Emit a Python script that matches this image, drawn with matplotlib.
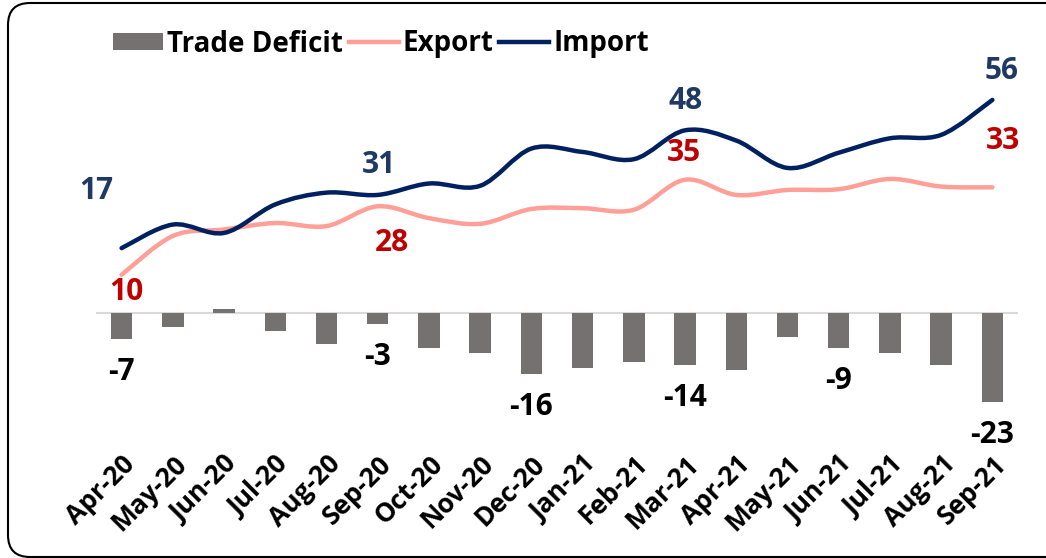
import numpy as np
import matplotlib
matplotlib.use('Agg')
import matplotlib.pyplot as plt
from matplotlib.path import Path
from matplotlib.patches import PathPatch, FancyBboxPatch, Patch
from matplotlib.lines import Line2D
from matplotlib.transforms import IdentityTransform

months = ['Apr-20', 'May-20', 'Jun-20', 'Jul-20', 'Aug-20', 'Sep-20', 'Oct-20', 'Nov-20',
          'Dec-20', 'Jan-21', 'Feb-21', 'Mar-21', 'Apr-21', 'May-21', 'Jun-21', 'Jul-21',
          'Aug-21', 'Sep-21']
trade_deficit = [-6.9, -3.8, 1.0, -4.7, -8.3, -2.9, -9.2, -10.5, -16.0, -14.6, -12.9,
                 -13.8, -15.2, -6.4, -9.4, -10.7, -13.8, -23.4]
exports = [10, 20.2, 21.9, 23.6, 22.8, 28, 24.9, 23.4, 27.3, 27.5, 27.1, 35, 31.0,
           32.3, 32.5, 35.2, 33.2, 33]
imports = [17, 23.2, 21.0, 28.5, 31.6, 31, 34.0, 33.4, 43.2, 42.3, 40.4, 48, 45.3,
           38.1, 42.1, 45.9, 46.8, 56]

import_labels_idx = [0, 5, 11, 17]
export_labels_idx = [0, 5, 11, 17]
deficit_labels_idx = [0, 5, 8, 11, 14, 17]

C_BAR = '#767171'
C_EXP = '#FF9F97'
C_IMP = '#002060'
C_IMP_LBL = '#1F3864'
C_EXP_LBL = '#C00000'

plt.rcParams['font.family'] = ['Open Sans', 'DejaVu Sans']

W, H = 1046, 558
fig = plt.figure(figsize=(W / 100, H / 100), dpi=100)
fig.patch.set_facecolor('white')

ax = fig.add_axes([96 / W, 0.1978, 922 / W, 0.664])
x = np.arange(len(months))

ax.bar(x, trade_deficit, width=0.42, color=C_BAR, zorder=2)
ax.axhline(0, color='#D9D9D9', lw=1.5, zorder=1)


def smooth_path(xs, ys):
    pts = np.column_stack([xs, ys]).astype(float)
    n = len(pts)
    verts = [pts[0]]
    codes = [Path.MOVETO]
    for i in range(n - 1):
        p0 = pts[i - 1] if i > 0 else pts[i]
        p1 = pts[i]
        p2 = pts[i + 1]
        p3 = pts[i + 2] if i + 2 < n else pts[i + 1]
        c1 = p1 + (p2 - p0) / 6.0
        c2 = p2 - (p3 - p1) / 6.0
        verts += [c1, c2, p2]
        codes += [Path.CURVE4] * 3
    return Path(verts, codes)


ax.add_patch(PathPatch(smooth_path(x, exports), fill=False, edgecolor=C_EXP, lw=3.2,
                       capstyle='round', zorder=3))
ax.add_patch(PathPatch(smooth_path(x, imports), fill=False, edgecolor=C_IMP, lw=3.2,
                       capstyle='round', zorder=4))

ax.set_xlim(-0.5, len(months) - 0.5)
ax.set_ylim(-35.5, 62)
for s in ax.spines.values():
    s.set_visible(False)
ax.set_yticks([])
ax.set_xticks(x)
ax.set_xticklabels(months, rotation=45, ha='right', rotation_mode='anchor',
                   fontsize=19, fontweight='bold')
ax.tick_params(axis='x', length=0, pad=2)

lbl_kw = dict(textcoords='offset pixels', ha='center', va='center', fontsize=21.5,
              fontweight='bold', annotation_clip=False)
imp_off = {0: (-25, 57), 5: (1, 30), 11: (1, 29), 17: (9, 29)}
exp_off = {0: (5, -17), 5: (14, -37), 11: (-1, 27), 17: (11, 46)}
for i in import_labels_idx:
    ax.annotate(f'{imports[i]:.0f}', (x[i], imports[i]), xytext=imp_off[i],
                color=C_IMP_LBL, **lbl_kw)
for i in export_labels_idx:
    ax.annotate(f'{exports[i]:.0f}', (x[i], exports[i]), xytext=exp_off[i],
                color=C_EXP_LBL, **lbl_kw)
for i in deficit_labels_idx:
    ax.annotate(f'{trade_deficit[i]:.0f}', (x[i], trade_deficit[i]), xytext=(0, -33),
                color='black', **lbl_kw)

handles = [Patch(facecolor=C_BAR, edgecolor='none'),
           Line2D([], [], color=C_EXP, lw=3.2),
           Line2D([], [], color=C_IMP, lw=3.2)]
fig.legend(handles, ['Trade Deficit', 'Export', 'Import'], loc='center left',
           bbox_to_anchor=(113 / W, 1 - 44 / H), ncol=3, frameon=False,
           prop=dict(size=20, weight='bold'), handlelength=1.8, handleheight=0.55,
           handletextpad=0.15, columnspacing=0.2, borderpad=0, borderaxespad=0)

border = FancyBboxPatch((8, 1), 1060, 554, boxstyle='round,pad=0,rounding_size=22',
                        transform=IdentityTransform(), fill=False, edgecolor='black',
                        lw=1.5, clip_on=False)
fig.patches.append(border)

fig.savefig('out.png', dpi=100, facecolor='white')
